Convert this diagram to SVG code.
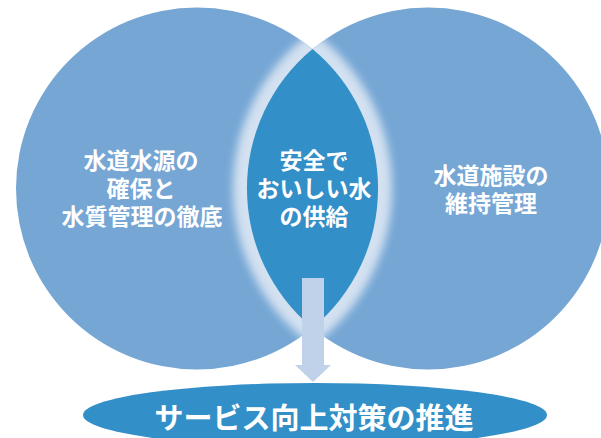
<svg xmlns="http://www.w3.org/2000/svg" width="601" height="438" viewBox="0 0 601 438">
  <style>
    .circle { fill: #75A6D4; }
    .lens { fill: #338FC7; }
    .lbl { fill: #ffffff; font-family: "Noto Sans CJK JP", "Noto Sans", sans-serif; font-weight: 700; font-size: 23px; text-anchor: middle; }
    .big { font-size: 29px; }
    .arrow { fill: #BFD2EA; }
  </style>
  <defs>
    <clipPath id="union">
      <circle cx="197" cy="188.5" r="181"/>
      <circle cx="428" cy="188.5" r="181"/>
    </clipPath>
    <filter id="blur" x="-20%" y="-20%" width="140%" height="140%">
      <feGaussianBlur stdDeviation="4"/>
    </filter>
  </defs>
  <rect width="601" height="438" fill="#ffffff"/>
  <g id="left-circle">
    <circle class="circle" cx="197" cy="188.5" r="181"/>
    <text class="lbl" x="141" y="169">水道水源の</text>
    <text class="lbl" x="141" y="197">確保と</text>
    <text class="lbl" x="142" y="225">水質管理の徹底</text>
  </g>
  <g id="right-circle">
    <circle class="circle" cx="428" cy="188.5" r="181"/>
    <text class="lbl" x="491" y="184">水道施設の</text>
    <text class="lbl" x="491" y="212">維持管理</text>
  </g>
  <g id="overlap">
    <g clip-path="url(#union)">
      <path d="M312.5 49.1 A181 181 0 0 0 312.5 327.9 A181 181 0 0 0 312.5 49.1 Z" fill="none" stroke="#D3E1F1" stroke-width="28" filter="url(#blur)"/>
    </g>
    <path class="lens" d="M312.5 49.1 A181 181 0 0 0 312.5 327.9 A181 181 0 0 0 312.5 49.1 Z"/>
    <text class="lbl" x="314" y="169">安全で</text>
    <text class="lbl" x="314" y="197">おいしい水</text>
    <text class="lbl" x="314" y="225">の供給</text>
  </g>
  <g id="connectors">
    <polygon class="arrow" points="302,278 324,278 324,365 331,365 313,382 295,365 302,365"/>
  </g>
  <g id="result">
    <ellipse class="lens" cx="315" cy="415" rx="232" ry="32"/>
    <text class="lbl big" x="314" y="429">サービス向上対策の推進</text>
  </g>
</svg>
